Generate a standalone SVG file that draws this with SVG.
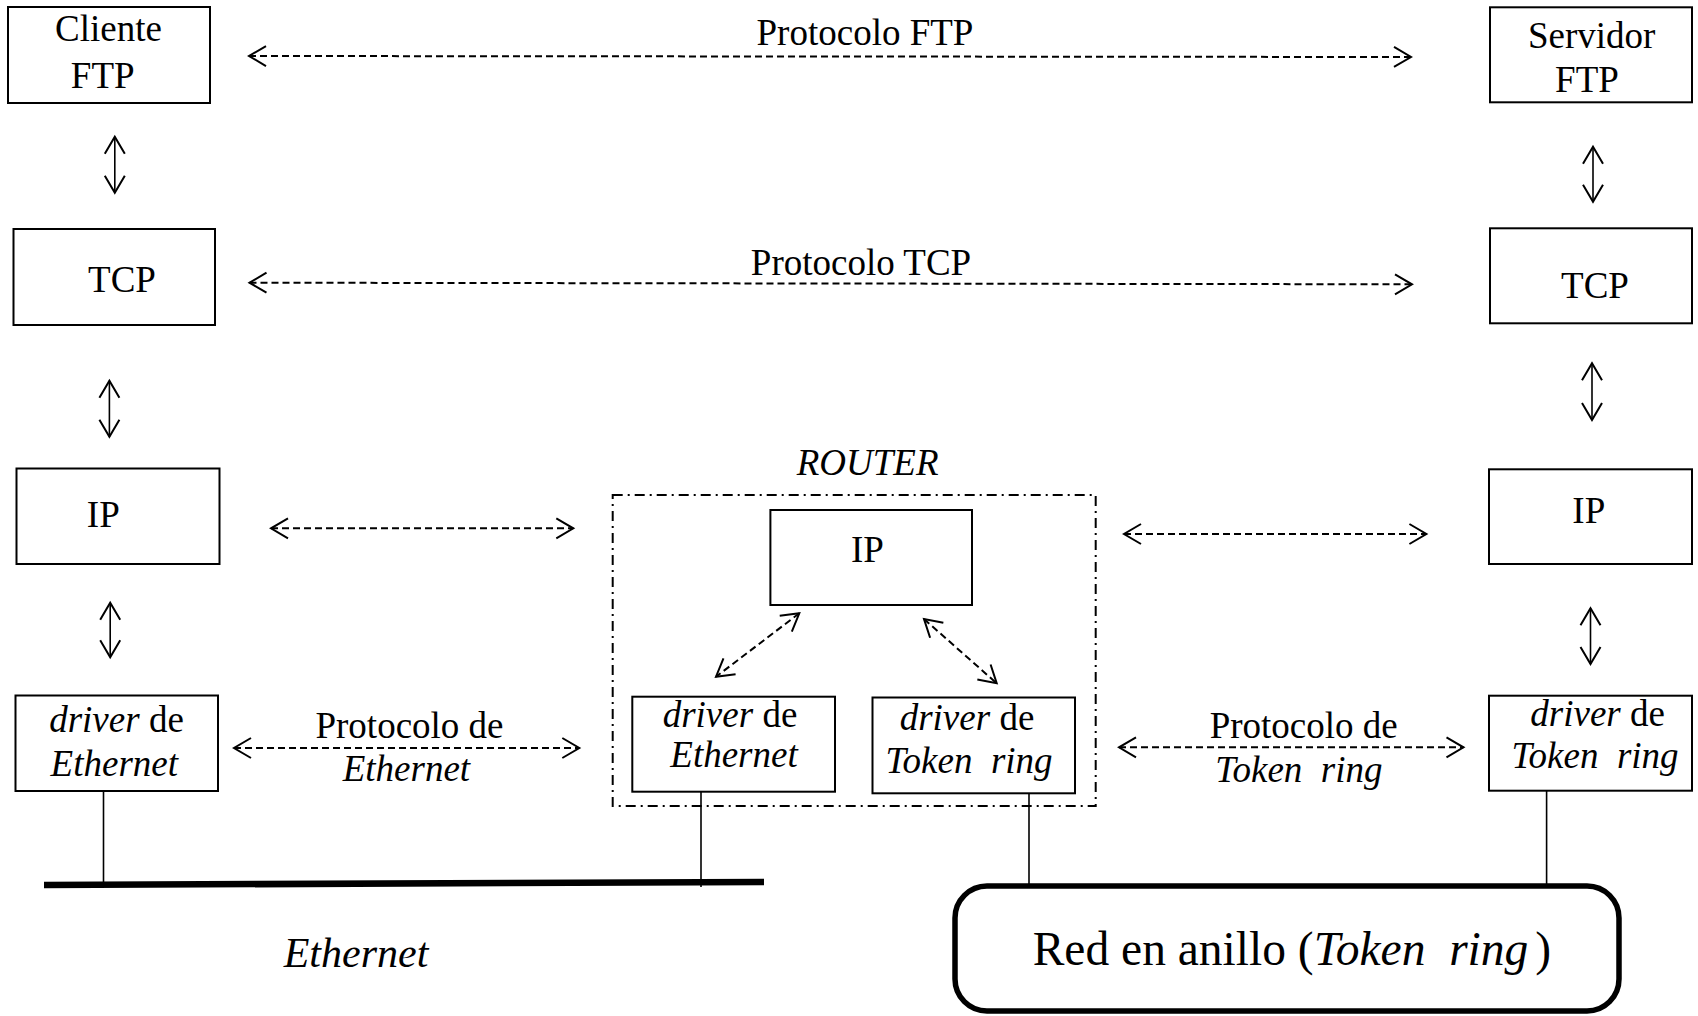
<svg xmlns="http://www.w3.org/2000/svg" width="1698" height="1016" viewBox="0 0 1698 1016">
<style>
.bg{fill:#fff}
.box{fill:#fff;stroke:#000;stroke-width:2}
.t{font-family:"Liberation Serif","Times New Roman",serif;font-size:37px;fill:#000}
.m{text-anchor:middle}
.i{font-style:italic}
.pre{white-space:pre}
.dl{fill:none;stroke:#000;stroke-width:2;stroke-dasharray:7 4;marker-start:url(#ah);marker-end:url(#ah)}
.sl{fill:none;stroke:#000;stroke-width:1.6;marker-start:url(#ah);marker-end:url(#ah)}
.wire{fill:none;stroke:#000;stroke-width:1.6}
</style>
<defs>
<marker id="ah" viewBox="-20 -12 24 24" refX="0" refY="0" markerWidth="24" markerHeight="24" markerUnits="userSpaceOnUse" orient="auto-start-reverse">
<path d="M-17,-10 L0,0 L-17,10" fill="none" stroke="#000" stroke-width="2"/>
</marker>
</defs>
<rect class="bg" x="0" y="0" width="1698" height="1016"/>

<g id="router">
<rect x="612.7" y="495" width="483" height="311" fill="none" stroke="#000" stroke-width="2" stroke-dasharray="10 5 2 5"/>
<text class="t m i" x="867.6" y="475">ROUTER</text>
</g>

<g id="cliente-ftp">
<rect class="box" x="8" y="7" width="202" height="96"/>
<text class="t m" x="108.5" y="41">Cliente</text>
<text class="t m" x="102.7" y="88.3">FTP</text>
</g>
<g id="tcp-left">
<rect class="box" x="13.5" y="229" width="201.5" height="96"/>
<text class="t m" x="122" y="291.7">TCP</text>
</g>
<g id="ip-left">
<rect class="box" x="16.5" y="468.5" width="203" height="95.5"/>
<text class="t m" x="103.3" y="527.3">IP</text>
</g>
<g id="driver-eth-left">
<rect class="box" x="15.5" y="695.5" width="202.5" height="95.5"/>
<text class="t m" x="116.5" y="732.3"><tspan class="i">driver</tspan> de</text>
<text class="t m i" x="114.3" y="776">Ethernet</text>
</g>

<g id="servidor-ftp">
<rect class="box" x="1490" y="7.3" width="202" height="95"/>
<text class="t m" x="1591.6" y="48.3">Servidor</text>
<text class="t m" x="1587" y="92.3">FTP</text>
</g>
<g id="tcp-right">
<rect class="box" x="1490" y="228.3" width="202" height="95"/>
<text class="t m" x="1595" y="298.3">TCP</text>
</g>
<g id="ip-right">
<rect class="box" x="1489" y="469.3" width="203" height="94.7"/>
<text class="t m" x="1588.8" y="523.3">IP</text>
</g>
<g id="driver-token-right">
<rect class="box" x="1489" y="695.7" width="203" height="95"/>
<text class="t m" x="1597.6" y="725.7"><tspan class="i">driver</tspan> de</text>
<text class="t m i pre" xml:space="preserve" x="1595" y="768.3">Token  ring</text>
</g>

<g id="ip-router">
<rect class="box" x="770.4" y="510" width="201.6" height="95"/>
<text class="t m" x="867.5" y="561.7">IP</text>
</g>
<g id="driver-eth-router">
<rect class="box" x="632.3" y="696.7" width="202.7" height="95"/>
<text class="t m" x="730" y="727"><tspan class="i">driver</tspan> de</text>
<text class="t m i" x="734" y="766.5">Ethernet</text>
</g>
<g id="driver-token-router">
<rect class="box" x="872.5" y="697.5" width="202.5" height="95.8"/>
<text class="t m" x="967" y="730"><tspan class="i">driver</tspan> de</text>
<text class="t m i pre" xml:space="preserve" x="969" y="773.3">Token  ring</text>
</g>

<g id="ethernet-net">
<line x1="44" y1="885" x2="764" y2="882" stroke="#000" stroke-width="6.5"/>
<text class="t m i" style="font-size:42px" x="356" y="966.7">Ethernet</text>
</g>
<g id="token-ring-net">
<rect x="955" y="886" width="664" height="125" rx="32" ry="32" fill="#fff" stroke="#000" stroke-width="5.5"/>
<text class="t pre" xml:space="preserve" style="font-size:47.5px" x="1032.7" y="965">Red en anillo (<tspan class="i">Token  ring</tspan><tspan dx="7">)</tspan></text>
</g>

<g id="labels">
<text class="t m" x="865" y="45">Protocolo FTP</text>
<text class="t m" x="861" y="275">Protocolo TCP</text>
<text class="t m" x="409.5" y="738.3">Protocolo de</text>
<text class="t m i" x="406.4" y="780.7">Ethernet</text>
<text class="t m" x="1303.7" y="738.3">Protocolo de</text>
<text class="t m i pre" xml:space="preserve" x="1298.9" y="781.7">Token  ring</text>
</g>

<g id="connectors">
<line class="dl" x1="249" y1="56" x2="1411" y2="57"/>
<line class="dl" x1="249.5" y1="282.7" x2="1412" y2="284.3"/>
<line class="dl" x1="271" y1="528.3" x2="573.3" y2="528.3"/>
<line class="dl" x1="1124" y1="534" x2="1426.4" y2="534"/>
<line class="dl" x1="234" y1="748" x2="579.3" y2="748"/>
<line class="dl" x1="1119" y1="747.3" x2="1463.5" y2="747.3"/>
<line class="dl" x1="799.3" y1="613.3" x2="716" y2="676.7"/>
<line class="dl" x1="924" y1="619" x2="996.7" y2="683.3"/>
<line class="sl" x1="114.8" y1="136.7" x2="114.8" y2="192.7"/>
<line class="sl" x1="109.4" y1="380.7" x2="109.4" y2="436.7"/>
<line class="sl" x1="110.2" y1="602.7" x2="110.2" y2="657.3"/>
<line class="sl" x1="1593" y1="146.7" x2="1593" y2="201.7"/>
<line class="sl" x1="1592" y1="363.3" x2="1592" y2="420"/>
<line class="sl" x1="1590.5" y1="608.3" x2="1590.5" y2="664"/>
<line class="wire" x1="103.5" y1="791" x2="103.5" y2="884"/>
<line class="wire" x1="701" y1="791.7" x2="701" y2="887"/>
<line class="wire" x1="1029" y1="793.3" x2="1029" y2="884"/>
<line class="wire" x1="1546.6" y1="790.7" x2="1546.6" y2="884"/>
</g>
</svg>
